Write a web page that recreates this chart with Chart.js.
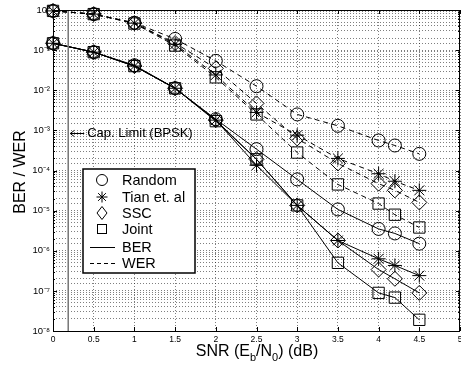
<!DOCTYPE html>
<html lang="en">
<head>
<meta charset="UTF-8">
<title>BER / WER vs SNR</title>
<script src="https://cdn.jsdelivr.net/npm/chart.js"></script>
<style>
  html, body { margin: 0; padding: 0; background: #fff; }
  #wrap { width: 461px; height: 368px; }
</style>
</head>
<body>
<div id="wrap"><canvas id="berChart" width="461" height="368"></canvas></div>
<script>
// SNR points (dB)
const snr = [0, 0.5, 1, 1.5, 2, 2.5, 3, 3.5, 4, 4.2, 4.5];

// word error rate (dashed curves)
const werRandom = [0.95, 0.79, 0.48, 0.19, 0.054, 0.0126, 2.5e-3, 1.3e-3, 5.6e-4, 4.2e-4, 2.6e-4];
const werTian   = [0.95, 0.79, 0.47, 0.14, 0.024, 2.8e-3, 7.6e-4, 2.0e-4, 8.3e-5, 5.4e-5, 3.2e-5];
const werSSC    = [0.95, 0.79, 0.47, 0.15, 0.035, 4.7e-3, 6.3e-4, 1.5e-4, 4.7e-5, 3.2e-5, 1.6e-5];
const werJoint  = [0.95, 0.79, 0.46, 0.13, 0.021, 2.5e-3, 2.8e-4, 4.5e-5, 1.5e-5, 7.9e-6, 3.8e-6];

// bit error rate (solid curves)
const berRandom = [0.148, 0.089, 0.042, 0.0112, 1.9e-3, 3.4e-4, 6.0e-5, 1.07e-5, 3.5e-6, 2.7e-6, 1.5e-6];
const berTian   = [0.148, 0.089, 0.040, 0.0112, 1.8e-3, 1.35e-4, 1.35e-5, 1.8e-6, 6.3e-7, 4.3e-7, 2.4e-7];
const berSSC    = [0.148, 0.089, 0.040, 0.0112, 1.8e-3, 1.9e-4, 1.35e-5, 1.8e-6, 3.4e-7, 2.0e-7, 8.9e-8];
const berJoint  = [0.148, 0.089, 0.040, 0.0112, 1.7e-3, 1.9e-4, 1.35e-5, 5.0e-7, 8.9e-8, 6.8e-8, 1.9e-8];

// BPSK capacity limit (dB)
const capLimit = 0.187;

// axis ticks
const xTicks = [0, 0.5, 1, 1.5, 2, 2.5, 3, 3.5, 4, 4.5, 5];
const yTickLabels = ['10⁰', '10⁻¹', '10⁻²', '10⁻³', '10⁻⁴', '10⁻⁵', '10⁻⁶', '10⁻⁷', '10⁻⁸'];

const FONT = "'Liberation Sans', Arial, Helvetica, sans-serif";

function series(values, style, radius, dashed) {
    return {
        data: snr.map((x, i) => ({ x: x, y: values[i] })),
        borderColor: '#000',
        borderWidth: 1,
        borderDash: dashed ? [5, 4] : [],
        pointStyle: style,
        pointRadius: radius,
        pointBorderColor: '#000',
        pointBackgroundColor: 'rgba(0,0,0,0)',
        pointBorderWidth: 1,
        tension: 0,
        clip: false
    };
}

// frame + inward ticks like the original figure
const frame = {
    id: 'frame',
    afterDraw(chart) {
        const { ctx, chartArea: a, scales } = chart;
        ctx.save();
        ctx.strokeStyle = '#000';
        ctx.lineWidth = 1;
        ctx.beginPath();
        xTicks.forEach(v => {
            const px = Math.round(scales.x.getPixelForValue(v)) + 0.5;
            ctx.moveTo(px, a.bottom); ctx.lineTo(px, a.bottom - 4);
            ctx.moveTo(px, a.top); ctx.lineTo(px, a.top + 4);
        });
        for (let e = 0; e >= -8; e--) {
            for (let s = 1; s <= 9; s++) {
                if (e === 0 && s > 1) break;
                const py = Math.round(scales.y.getPixelForValue(s * Math.pow(10, e))) + 0.5;
                const len = s === 1 ? 4 : 2;
                ctx.moveTo(a.left, py); ctx.lineTo(a.left + len, py);
                ctx.moveTo(a.right, py); ctx.lineTo(a.right - len, py);
            }
        }
        ctx.stroke();
        ctx.strokeRect(a.left + 0.5, a.top + 0.5, a.right - a.left - 1, a.bottom - a.top);
        ctx.restore();
    }
};

// legend, annotation and axis titles
const decorations = {
    id: 'decorations',
    afterDraw(chart) {
        const { ctx, scales } = chart;
        ctx.save();
        ctx.fillStyle = '#000';
        ctx.strokeStyle = '#000';

        // capacity limit note
        const cx = scales.x.getPixelForValue(capLimit) + 2;
        const cy = Math.round(scales.y.getPixelForValue(1e-3)) + 3;
        ctx.lineWidth = 1;
        ctx.beginPath();
        ctx.moveTo(cx, cy + 0.5); ctx.lineTo(cx + 14, cy + 0.5);
        ctx.moveTo(cx + 4, cy - 2.5); ctx.lineTo(cx, cy + 0.5); ctx.lineTo(cx + 4, cy + 3.5);
        ctx.stroke();
        ctx.font = '13px ' + FONT;
        ctx.textBaseline = 'middle';
        ctx.textAlign = 'left';
        ctx.fillText('Cap. Limit (BPSK)', cx + 17, cy);

        // legend box
        const bx = 83, by = 169, bw = 112, bh = 104;
        ctx.fillStyle = '#fff';
        ctx.fillRect(bx, by, bw, bh);
        ctx.lineWidth = 1.5;
        ctx.strokeRect(bx, by, bw, bh);
        ctx.fillStyle = '#000';
        const names = ['Random', 'Tian et. al', 'SSC', 'Joint', 'BER', 'WER'];
        const ys = [180, 197, 213, 229, 247, 263];
        const sx = 102;
        ctx.lineWidth = 1;
        ctx.font = '14.5px ' + FONT;
        names.forEach((n, i) => ctx.fillText(n, 122, ys[i] + 1));

        ctx.beginPath();
        ctx.arc(sx, ys[0], 5.5, 0, Math.PI * 2);
        ctx.stroke();
        ctx.beginPath();
        for (let k = 0; k < 4; k++) {
            const ang = k * Math.PI / 4;
            ctx.moveTo(sx - Math.cos(ang) * 5.5, ys[1] - Math.sin(ang) * 5.5);
            ctx.lineTo(sx + Math.cos(ang) * 5.5, ys[1] + Math.sin(ang) * 5.5);
        }
        ctx.stroke();
        ctx.beginPath();
        ctx.moveTo(sx, ys[2] - 6.5); ctx.lineTo(sx + 5, ys[2]);
        ctx.lineTo(sx, ys[2] + 6.5); ctx.lineTo(sx - 5, ys[2]);
        ctx.closePath();
        ctx.stroke();
        ctx.strokeRect(sx - 4.5, ys[3] - 4.5, 9, 9);
        ctx.beginPath();
        ctx.moveTo(90, ys[4] + 0.5); ctx.lineTo(115, ys[4] + 0.5);
        ctx.stroke();
        ctx.setLineDash([4, 3]);
        ctx.beginPath();
        ctx.moveTo(90, ys[5] + 0.5); ctx.lineTo(115, ys[5] + 0.5);
        ctx.stroke();
        ctx.setLineDash([]);

        // y title
        ctx.font = '16px ' + FONT;
        ctx.save();
        ctx.translate(21, 172);
        ctx.rotate(-Math.PI / 2);
        ctx.textAlign = 'center';
        ctx.fillText('BER / WER', 0, 0);
        ctx.restore();

        // x title with subscripts
        const parts = [['SNR (E', false], ['b', true], ['/N', false], ['0', true], [') (dB)', false]];
        let w = 0;
        parts.forEach(p => {
            ctx.font = (p[1] ? '11px ' : '16px ') + FONT;
            w += ctx.measureText(p[0]).width;
        });
        let tx = 257 - w / 2;
        const ty = 352;
        ctx.textAlign = 'left';
        parts.forEach(p => {
            ctx.font = (p[1] ? '11px ' : '16px ') + FONT;
            ctx.fillText(p[0], tx, p[1] ? ty + 6 : ty);
            tx += ctx.measureText(p[0]).width;
        });
        ctx.restore();
    }
};

new Chart(document.getElementById('berChart').getContext('2d'), {
    type: 'line',
    data: {
        datasets: [
            {
                data: [{ x: capLimit, y: 1 }, { x: capLimit, y: 1e-8 }],
                borderColor: '#777',
                borderWidth: 1.5,
                pointRadius: 0
            },
            series(werRandom, 'circle', 6.5, true),
            series(werTian, 'star', 7, true),
            series(werSSC, 'rectRot', 7.5, true),
            series(werJoint, 'rect', 8, true),
            series(berRandom, 'circle', 6.5, false),
            series(berTian, 'star', 7, false),
            series(berSSC, 'rectRot', 7.5, false),
            series(berJoint, 'rect', 8, false)
        ]
    },
    options: {
        responsive: false,
        animation: false,
        layout: { autoPadding: false, padding: { top: 10, right: 1, left: 0, bottom: 0 } },
        plugins: { legend: { display: false }, tooltip: { enabled: false } },
        scales: {
            x: {
                type: 'linear',
                min: 0,
                max: 5,
                afterBuildTicks: s => { s.ticks = xTicks.map(v => ({ value: v })); },
                afterFit: s => { s.height = 37; s.paddingLeft = 0; s.paddingRight = 0; },
                ticks: {
                    autoSkip: false,
                    maxRotation: 0,
                    padding: 4,
                    color: '#000',
                    font: { family: FONT, size: 8.5 },
                    callback: v => String(v)
                },
                grid: { color: 'rgba(0,0,0,0.5)', drawTicks: false, lineWidth: 1 },
                border: { display: false, dash: [1, 2] }
            },
            y: {
                type: 'logarithmic',
                min: 1e-8,
                max: 1,
                afterFit: s => { s.width = 53; s.paddingTop = 0; s.paddingBottom = 0; },
                ticks: {
                    autoSkip: false,
                    padding: 3,
                    color: '#000',
                    font: { family: FONT, size: 9.5 },
                    callback: v => {
                        const e = Math.log10(v);
                        if (Math.abs(e - Math.round(e)) > 1e-6) return '';
                        return yTickLabels[-Math.round(e)];
                    }
                },
                grid: { color: 'rgba(0,0,0,0.5)', drawTicks: false, lineWidth: 1 },
                border: { display: false, dash: [1, 2] }
            }
        }
    },
    plugins: [frame, decorations]
});
</script>
</body>
</html>
